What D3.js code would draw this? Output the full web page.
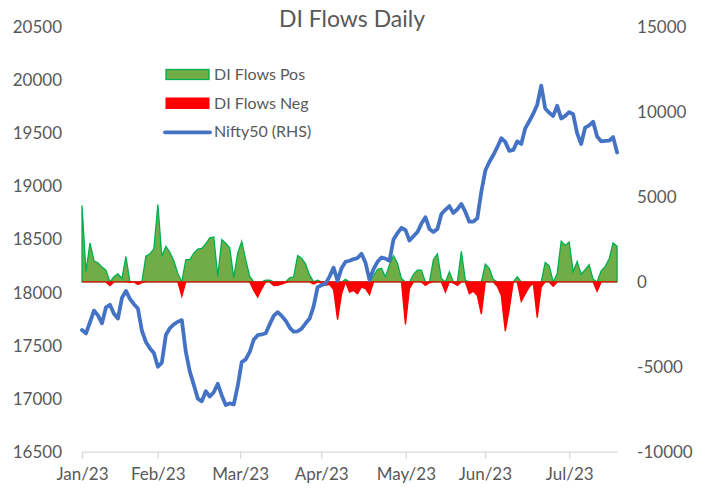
<!DOCTYPE html>
<html>
<head>
<meta charset="utf-8">
<script src="https://cdn.jsdelivr.net/npm/d3@7"></script>
<style>
    body { margin: 0; background: #fff; }
    svg { display: block; }
    text { font-family: Lato, "Open Sans", sans-serif; fill: #595959; }
</style>
</head>
<body>
<svg width="710" height="490"></svg>
<script>
// month labels and where they sit on the day index
let monthLabels = ["Jan/23", "Feb/23", "Mar/23", "Apr/23", "May/23", "Jun/23", "Jul/23"];
let monthIdx = [0, 18.96, 39.6, 59.9, 81.1, 100.9, 122.0];

let leftTicks = [16500, 17000, 17500, 18000, 18500, 19000, 19500, 20000, 20500];
let rightTicks = [-10000, -5000, 0, 5000, 10000, 15000];

// Nifty50 close, one value per day
let nifty = [
    17647, 17615, 17720, 17830, 17785, 17710, 17860, 17885, 17800, 17755,
    17950, 18015, 17940, 17890, 17850, 17640, 17535, 17475, 17430, 17300,
    17340, 17600, 17665, 17700, 17725, 17740, 17440, 17255, 17130, 17000,
    16975, 17070, 17020, 17060, 17140, 17030, 16940, 16955, 16945, 17120,
    17345, 17370, 17440, 17555, 17598, 17605, 17616, 17700, 17780, 17815,
    17780, 17735, 17670, 17631, 17635, 17660, 17710, 17755, 17870, 18050,
    18070, 18085, 18150, 18235, 18110, 18230, 18290, 18300, 18315, 18325,
    18365, 18280, 18120, 18220, 18290, 18330, 18320, 18300, 18500, 18560,
    18610, 18590, 18490, 18530, 18570, 18650, 18710, 18600, 18570, 18600,
    18740, 18780, 18815, 18750, 18785, 18835, 18760, 18668, 18668, 18700,
    18950, 19150, 19230, 19296, 19370, 19455, 19420, 19335, 19344, 19425,
    19400, 19548, 19615, 19685, 19770, 19950, 19735, 19695, 19665, 19760,
    19640, 19665, 19700, 19680, 19500, 19400, 19555, 19575, 19610, 19470,
    19425, 19430, 19431, 19465, 19320
];

// DI net flows (Rs cr), one value per day
let flows = [
    4500, 600, 2300, 1250, 1120, 880, 700, -220, 300, 470,
    200, 1500, -30, 0, -150, -40, 1520, 1650, 1950, 4560,
    1500, 2100, 1750, 1250, 500, -850, 1310, 1310, 1700, 1930,
    1970, 2250, 2600, 2650, 330, 2490, 2280, 2000, 250, 1700,
    2390, 1300, 330, -500, -900, -400, 100, 100, -220, -200,
    -130, -40, 235, 300, 1550, 1400, 1050, 400, -120, 100,
    -80, -200, -150, -450, -2220, -700, 150, -600, -500, -700,
    -300, -400, -750, 350, 750, 800, 300, 1020, 1550, 1100,
    200, -2500, -400, 450, 700, 700, -200, -50, 1310, 1650,
    200, -600, 600, -60, -200, 1800, 100, -700, -550, -800,
    -1900, 1050, 800, 150, -250, -800, -2900, -1600, 0, 300,
    -1140, -700, -300, -60, -2100, -300, 1150, 950, -250, 500,
    2400, 2150, 2350, 600, 1200, 450, 720, 1020, 150, -550,
    650, 900, 1350, 2300, 2100
];

document.addEventListener('DOMContentLoaded', (event) => {
    let svg = d3.select("svg");

    let left = 82, right = 617.1, top = 27.3, bottom = 451.7;

    let x = d3.scaleLinear().domain([0, nifty.length - 1]).range([left, right]);
    let yL = d3.scaleLinear().domain([16500, 20500]).range([bottom, top]);
    let yR = d3.scaleLinear().domain([-10000, 15000]).range([bottom, top]);

    svg.append("text")
        .attr("x", 352)
        .attr("y", 27)
        .attr("font-size", "23px")
        .style("text-anchor", "middle")
        .text("DI Flows Daily");

    // x axis
    let xAxis = svg.append("g")
        .attr("transform", "translate(0," + bottom + ")")
        .call(d3.axisBottom(x)
            .tickValues(monthIdx)
            .tickFormat((d, i) => monthLabels[i])
            .tickSizeInner(7)
            .tickSizeOuter(0)
            .tickPadding(9));
    xAxis.select(".domain").attr("stroke", "#d9d9d9").attr("stroke-width", 1.3);
    xAxis.selectAll(".tick line").attr("stroke", "#d9d9d9").attr("stroke-width", 1.3);
    xAxis.selectAll("text").attr("font-size", "17px").attr("fill", "#595959");

    // left axis (Nifty)
    let lAxis = svg.append("g")
        .attr("transform", "translate(" + left + ",0)")
        .call(d3.axisLeft(yL).tickValues(leftTicks).tickSize(0).tickPadding(20).tickFormat(d => String(d)));
    lAxis.select(".domain").remove();
    lAxis.selectAll("text").attr("font-size", "17px").attr("fill", "#595959");

    // right axis (flows), plain hyphen for negatives like Excel
    let rAxis = svg.append("g")
        .attr("transform", "translate(" + right + ",0)")
        .call(d3.axisRight(yR).tickValues(rightTicks).tickSize(0).tickPadding(20).tickFormat(d => String(d)));
    rAxis.select(".domain").remove();
    rAxis.selectAll("text").attr("font-size", "17px").attr("fill", "#595959");

    let posArea = d3.area()
        .x((d, i) => x(i))
        .y0(yR(0))
        .y1(d => yR(Math.max(d, 0)));
    let negArea = d3.area()
        .x((d, i) => x(i))
        .y0(yR(0))
        .y1(d => yR(Math.min(d, 0)));

    svg.append("path")
        .datum(flows)
        .attr("d", posArea)
        .attr("fill", "#70ad47")
        .attr("stroke", "#00b050")
        .attr("stroke-width", 1.3);

    svg.append("path")
        .datum(flows)
        .attr("d", negArea)
        .attr("fill", "#ff0000")
        .attr("stroke", "#ff0000")
        .attr("stroke-width", 1.3);

    let line = d3.line()
        .x((d, i) => x(i))
        .y(d => yL(d));

    svg.append("path")
        .datum(nifty)
        .attr("d", line)
        .attr("fill", "none")
        .attr("stroke", "#4472c4")
        .attr("stroke-width", 3.8)
        .attr("stroke-linejoin", "round")
        .attr("stroke-linecap", "round");

    // legend
    let lg = svg.append("g");
    lg.append("rect")
        .attr("x", 166).attr("y", 69.5).attr("width", 43).attr("height", 10)
        .attr("fill", "#70ad47").attr("stroke", "#00b050").attr("stroke-width", 1.3);
    lg.append("rect")
        .attr("x", 165.5).attr("y", 97.5).attr("width", 44).attr("height", 11.5)
        .attr("fill", "#ff0000");
    lg.append("line")
        .attr("x1", 165).attr("x2", 210).attr("y1", 132.3).attr("y2", 132.3)
        .attr("stroke", "#4472c4").attr("stroke-width", 3.8).attr("stroke-linecap", "round");

    let legendText = ["DI Flows Pos", "DI Flows Neg", "Nifty50 (RHS)"];
    let legendY = [74.5, 103, 131.5];
    for (let i = 0; i < 3; i++) {
        lg.append("text")
            .attr("x", 214)
            .attr("y", legendY[i])
            .attr("dy", "0.35em")
            .attr("font-size", "16px")
            .text(legendText[i]);
    }
});
</script>
</body>
</html>
